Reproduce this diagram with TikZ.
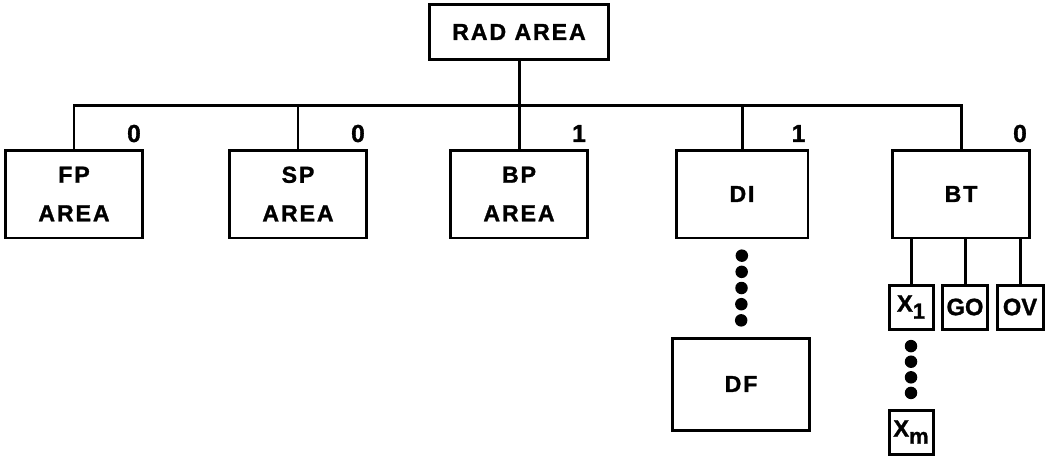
\documentclass[tikz,border=0pt]{standalone}
\usepackage{fontspec}
\setsansfont{Liberation Sans}[FakeBold=1.2]
\newfontfamily\boxfont[LetterSpace=8,FakeBold=1.2]{Liberation Sans}
\usetikzlibrary{calc,positioning}

\begin{document}
\begin{tikzpicture}[x=0.02cm,y=-0.02cm,
	box/.style={draw, line width=1.7pt, align=center, inner sep=0pt,
		font=\boxfont\bfseries\fontsize{13.2}{22}\selectfont},
	bigbox/.style={box, minimum width=2.74cm, minimum height=1.76cm},
	smallbox/.style={box, minimum width=0.88cm, minimum height=0.88cm,
		font=\sffamily\bfseries\fontsize{13.5}{14}\selectfont},
	tag/.style={font=\sffamily\bfseries\fontsize{14}{14}\selectfont, inner sep=0pt},
	wire/.style={line width=1.7pt}]
	\useasboundingbox (0,0) rectangle (1047,458);
	% top
	\node[box, minimum width=3.6cm, minimum height=1.1cm] (rad) at (519,32) {RAD AREA};
	\coordinate (bus) at (519,105);
	% second row
	\node[bigbox] (fp) at (74,194) {FP\\AREA};
	\node[bigbox] (sp) at (298,194) {SP\\AREA};
	\node[bigbox] (bp) at (519,194) {BP\\AREA};
	\node[bigbox, minimum width=2.64cm] (di) at (742,194) {DI};
	\node[bigbox] (bt) at (961,194) {BT};
	\node[tag] (fptag) at ($(fp.north east)+(-10,-15)$) {0};
	\node[tag] (sptag) at ($(sp.north east)+(-10,-15)$) {0};
	\node[tag] (bptag) at ($(bp.north east)+(-10,-15)$) {1};
	\node[tag] (ditag) at ($(di.north east)+(-11,-15)$) {1};
	\node[tag] (bttag) at ($(bt.north east)+(-11,-15)$) {0};
	% lower boxes
	\node[bigbox, minimum height=1.84cm] (df) at (741,384) {DF};
	\node[smallbox] (x1) at (911,307) {X{\fontsize{12.5}{12}\selectfont\raisebox{-4pt}{1}}};
	\node[smallbox, minimum width=0.9cm] (go) at (965,307) {GO};
	\node[smallbox, minimum width=0.92cm] (ov) at (1020,307) {OV};
	\node[smallbox] (xm) at (911,432) {X{\fontsize{12.5}{12}\selectfont\raisebox{-4pt}{m}}};
	% connectors
	\draw[wire] (rad) -- (bp);
	\draw[wire] (fp.north) |- (bus) -| (bt.north);
	\draw[wire] (sp.north) -- (sp.north |- bus);
	\draw[wire] (di.north) -- (di.north |- bus);
	\foreach \s in {x1,go,ov}
		\draw[wire] (\s.north) -- (\s.north |- bt.south);
	% dots
	\foreach \i in {1,...,5}
		\fill ($(di.south)!\i/6!(df.north)$) circle (0.125cm);
	\foreach \i in {1,...,4}
		\fill ($(x1.south)!\i/5!(xm.north)$) circle (0.125cm);
\end{tikzpicture}
\end{document}
